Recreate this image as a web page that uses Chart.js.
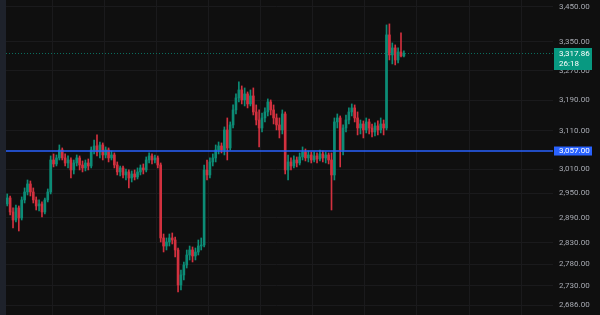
<!DOCTYPE html>
<html>
<head>
<meta charset="utf-8">
<script src="https://cdn.jsdelivr.net/npm/chart.js@4"></script>
<style>
	html, body { margin: 0; padding: 0; background: #0f0f0f; }
	.chart-box { position: relative; width: 600px; height: 315px; }
</style>
</head>
<body>
<div class="chart-box"><canvas id="priceChart"></canvas></div>
<script>
// candles, oldest first
const opens = [
	2921.7, 2934.0, 2924.2, 2938.9, 2904.6, 2885.1, 2914.4, 2890.0, 2934.0, 2953.7,
	2973.6, 2953.7, 2934.0, 2919.3, 2924.2, 2904.6, 2934.0, 2953.7, 3034.1, 3024.0,
	3039.3, 3059.7, 3039.3, 3026.5, 3034.1, 3008.8, 3026.5, 3039.3, 3021.4, 3013.9,
	3026.5, 3018.9, 3059.7, 3070.0, 3054.6, 3072.6, 3046.9, 3059.7, 3039.3, 3046.9,
	3021.4, 3003.8, 3013.9, 2996.2, 3003.8, 2988.6, 2998.7, 2991.2, 3003.8, 3013.9,
	3008.8, 3034.1, 3044.4, 3034.1, 3039.3, 3021.4, 2841.9, 2822.8, 2832.3, 2841.9,
	2837.1, 2813.4, 2732.0, 2755.0, 2778.2, 2801.6, 2813.4, 2799.3, 2808.7, 2822.8,
	2825.2, 3008.8, 2996.2, 3029.1, 3039.3, 3059.7, 3070.0, 3059.7, 3111.5, 3064.9,
	3124.6, 3164.2, 3196.3, 3217.8, 3190.9, 3207.0, 3180.2, 3201.6, 3158.9, 3137.7,
	3116.7, 3143.0, 3158.9, 3185.5, 3164.2, 3143.0, 3124.6, 3111.5, 3153.6, 3008.8,
	3029.1, 3018.9, 3034.1, 3026.5, 3041.8, 3054.6, 3039.3, 3046.9, 3034.1, 3044.4,
	3036.7, 3049.5, 3039.3, 3046.9, 3034.1, 2996.2, 3132.5, 3143.0, 3059.7, 3116.7,
	3137.7, 3158.9, 3169.5, 3143.0, 3116.7, 3127.2, 3111.5, 3132.5, 3116.7, 3106.3,
	3122.0, 3111.5, 3127.2, 3116.7, 3369.8, 3313.7, 3333.2, 3299.8, 3322.0, 3310.9
]
const highs = [
	2943.8, 2941.4, 2948.8, 2943.8, 2914.4, 2921.7, 2919.3, 2941.4, 2963.7, 2983.6,
	2981.1, 2963.7, 2941.4, 2934.0, 2929.1, 2938.9, 2961.2, 3044.4, 3049.5, 3046.9,
	3072.6, 3064.9, 3049.5, 3044.4, 3039.3, 3034.1, 3046.9, 3044.4, 3031.6, 3034.1,
	3036.7, 3067.5, 3085.5, 3098.5, 3080.3, 3077.8, 3067.5, 3064.9, 3057.2, 3052.1,
	3029.1, 3018.9, 3018.9, 3011.3, 3008.8, 3006.3, 3008.8, 3013.9, 3021.4, 3024.0,
	3041.8, 3052.1, 3049.5, 3046.9, 3044.4, 3026.5, 2851.4, 2841.9, 2851.4, 2853.8,
	2844.2, 2818.1, 2766.6, 2785.2, 2813.4, 2822.8, 2820.5, 2818.1, 2837.1, 2841.9,
	3021.4, 3034.1, 3039.3, 3049.5, 3072.6, 3080.3, 3077.8, 3119.4, 3143.0, 3132.5,
	3177.5, 3207.0, 3239.5, 3228.6, 3223.2, 3212.4, 3217.8, 3223.2, 3177.5, 3164.2,
	3156.2, 3169.5, 3193.6, 3190.9, 3177.5, 3153.6, 3143.0, 3164.2, 3158.9, 3046.9,
	3039.3, 3044.4, 3041.8, 3052.1, 3067.5, 3062.3, 3057.2, 3054.6, 3054.6, 3052.1,
	3059.7, 3057.2, 3054.6, 3052.1, 3052.1, 3143.0, 3153.6, 3148.3, 3124.6, 3150.9,
	3169.5, 3180.2, 3177.5, 3158.9, 3137.7, 3135.1, 3143.0, 3140.3, 3127.2, 3129.9,
	3135.1, 3143.0, 3137.7, 3398.2, 3401.1, 3347.2, 3341.6, 3333.2, 3375.5, 3324.8
]
const lows = [
	2914.4, 2916.8, 2919.3, 2897.3, 2865.8, 2880.3, 2858.6, 2885.1, 2926.6, 2946.3,
	2943.8, 2926.6, 2909.4, 2907.0, 2892.4, 2899.7, 2929.1, 2948.8, 3016.4, 3018.9,
	3034.1, 3034.1, 3018.9, 3013.9, 2988.6, 2998.7, 3018.9, 3008.8, 3003.8, 3006.3,
	3008.8, 3013.9, 3049.5, 3044.4, 3039.3, 3034.1, 3039.3, 3029.1, 3034.1, 3013.9,
	2996.2, 2993.7, 2988.6, 2983.6, 2963.7, 2978.6, 2983.6, 2986.1, 2996.2, 2998.7,
	3003.8, 3026.5, 3024.0, 3026.5, 3013.9, 2832.3, 2808.7, 2813.4, 2822.8, 2827.6,
	2797.0, 2715.9, 2720.5, 2743.5, 2771.2, 2789.9, 2785.2, 2789.9, 2801.6, 2813.4,
	2820.5, 2983.6, 2988.6, 3018.9, 3029.1, 3049.5, 3052.1, 3046.9, 3034.1, 3059.7,
	3116.7, 3153.6, 3185.5, 3180.2, 3174.8, 3169.5, 3174.8, 3150.9, 3124.6, 3067.5,
	3106.3, 3132.5, 3148.3, 3150.9, 3127.2, 3111.5, 3090.7, 3101.1, 2998.7, 2983.6,
	3008.8, 3013.9, 3016.4, 3021.4, 3034.1, 3031.6, 3029.1, 3026.5, 3029.1, 3026.5,
	3031.6, 3029.1, 3026.5, 3024.0, 2909.4, 2983.6, 3116.7, 3016.4, 3046.9, 3106.3,
	3127.2, 3148.3, 3132.5, 3098.5, 3101.1, 3090.7, 3103.7, 3101.1, 3093.3, 3095.9,
	3098.5, 3103.7, 3098.5, 3111.5, 3299.8, 3288.8, 3286.0, 3291.5, 3308.1, 3308.1
]
const closes = [
	2934.0, 2924.2, 2938.9, 2904.6, 2885.1, 2914.4, 2890.0, 2934.0, 2953.7, 2973.6,
	2953.7, 2934.0, 2919.3, 2924.2, 2904.6, 2934.0, 2953.7, 3034.1, 3024.0, 3039.3,
	3059.7, 3039.3, 3026.5, 3034.1, 3008.8, 3026.5, 3039.3, 3021.4, 3013.9, 3026.5,
	3018.9, 3059.7, 3070.0, 3054.6, 3072.6, 3046.9, 3059.7, 3039.3, 3046.9, 3021.4,
	3003.8, 3013.9, 2996.2, 3003.8, 2988.6, 2998.7, 2991.2, 3003.8, 3013.9, 3008.8,
	3034.1, 3044.4, 3034.1, 3039.3, 3021.4, 2841.9, 2822.8, 2832.3, 2841.9, 2837.1,
	2813.4, 2732.0, 2755.0, 2778.2, 2801.6, 2813.4, 2799.3, 2808.7, 2822.8, 2825.2,
	3008.8, 2996.2, 3029.1, 3039.3, 3059.7, 3070.0, 3059.7, 3111.5, 3064.9, 3124.6,
	3164.2, 3196.3, 3217.8, 3190.9, 3207.0, 3180.2, 3201.6, 3158.9, 3137.7, 3116.7,
	3143.0, 3158.9, 3185.5, 3164.2, 3143.0, 3124.6, 3111.5, 3153.6, 3008.8, 3029.1,
	3018.9, 3034.1, 3026.5, 3041.8, 3054.6, 3039.3, 3046.9, 3034.1, 3044.4, 3036.7,
	3049.5, 3039.3, 3046.9, 3034.1, 2996.2, 3132.5, 3143.0, 3059.7, 3116.7, 3137.7,
	3158.9, 3169.5, 3143.0, 3116.7, 3127.2, 3111.5, 3132.5, 3116.7, 3106.3, 3122.0,
	3111.5, 3127.2, 3116.7, 3369.8, 3313.7, 3333.2, 3299.8, 3322.0, 3310.9, 3317.86
]

const yTicks = [2686, 2730, 2780, 2830, 2890, 2950, 3010, 3110, 3190, 3270, 3350, 3450]
const levelPrice = 3057
const lastPrice = 3317.86
const countdown = '26:18'
const emptyBarsRight = 51

const upColor = '#0c8c76'
const downColor = '#d2313f'
const gridColor = '#1a1a1c'
const textColor = '#a7aab2'
const fontFamily = 'Roboto, "Noto Sans", sans-serif'

const labels = Array.from({ length: opens.length + emptyBarsRight }, (_, i) => i)
const candleColors = closes.map((c, i) => (c >= opens[i] ? upColor : downColor))

function fmt(v) {
	return v.toLocaleString('en-US', { minimumFractionDigits: 2, maximumFractionDigits: 2 })
}

// horizontal price lines + their boxes on the price scale
const priceLines = {
	id: 'priceLines',
	afterDraw(chart) {
		const { ctx, chartArea } = chart
		const yScale = chart.scales.y
		const boxX = chartArea.right + 1
		const boxW = 38

		ctx.save()

		// left toolbar edge
		ctx.fillStyle = '#1e222b'
		ctx.fillRect(0, 0, 6, chart.height)

		// level line
		const ly = yScale.getPixelForValue(levelPrice)
		ctx.strokeStyle = '#2962ff'
		ctx.lineWidth = 1.5
		ctx.beginPath()
		ctx.moveTo(6, ly)
		ctx.lineTo(chartArea.right, ly)
		ctx.stroke()

		// last price dotted line
		const py = Math.round(yScale.getPixelForValue(lastPrice)) + 0.5
		ctx.strokeStyle = '#0a6e5e'
		ctx.lineWidth = 1
		ctx.setLineDash([1, 2])
		ctx.beginPath()
		ctx.moveTo(6, py)
		ctx.lineTo(chartArea.right, py)
		ctx.stroke()
		ctx.setLineDash([])

		ctx.font = '8px ' + fontFamily
		ctx.textAlign = 'left'
		ctx.textBaseline = 'middle'

		ctx.fillStyle = '#2962ff'
		ctx.fillRect(boxX, ly - 4.5, boxW, 9)
		ctx.fillStyle = '#ffffff'
		ctx.fillText(fmt(levelPrice), boxX + 5, ly)

		ctx.fillStyle = '#089981'
		ctx.fillRect(boxX, py - 5.5, boxW, 22)
		ctx.fillStyle = '#ffffff'
		ctx.fillText(fmt(lastPrice), boxX + 5, py + 0.5)
		ctx.fillText(countdown, boxX + 5, py + 10)

		ctx.restore()
	},
}

const ctx = document.getElementById('priceChart')

new Chart(ctx, {
	type: 'bar',
	data: {
		labels: labels,
		datasets: [
			{
				label: 'body',
				data: opens.map((o, i) => [o, closes[i]]),
				backgroundColor: candleColors,
				barThickness: 2,
				grouped: false,
				borderWidth: 0,
			},
			{
				label: 'wick',
				data: lows.map((l, i) => [l, highs[i]]),
				backgroundColor: candleColors,
				barThickness: 1,
				grouped: false,
				borderWidth: 0,
			},
		],
	},
	options: {
		responsive: true,
		maintainAspectRatio: false,
		animation: false,
		layout: { padding: 0 },
		scales: {
			x: {
				ticks: { display: false },
				border: { display: false },
				grid: {
					drawTicks: false,
					color: (c) => (c.index % 18 === 0 ? gridColor : 'transparent'),
				},
			},
			y: {
				type: 'logarithmic',
				position: 'right',
				min: 2664,
				max: 3470,
				border: { display: false },
				grid: { color: gridColor, drawTicks: false },
				ticks: {
					color: textColor,
					padding: 6,
					font: { size: 8, family: fontFamily },
					callback: (v) => fmt(v),
				},
				afterBuildTicks: (scale) => {
					scale.ticks = yTicks.map((v) => ({ value: v }))
				},
				afterFit: (scale) => {
					scale.width = 47
					scale.paddingTop = 0
					scale.paddingBottom = 0
				},
			},
		},
		plugins: {
			legend: { display: false },
			tooltip: { enabled: false },
		},
	},
	plugins: [priceLines],
})
</script>
</body>
</html>
